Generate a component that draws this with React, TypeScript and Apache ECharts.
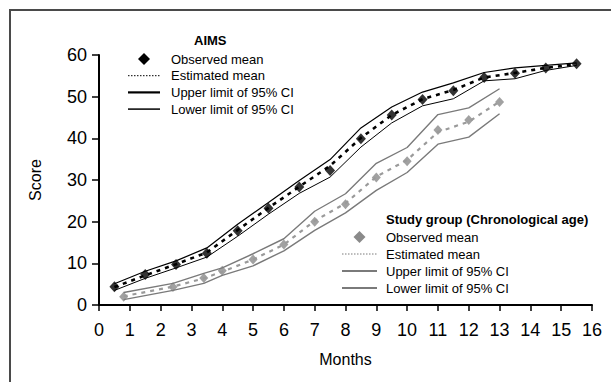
import React, { useEffect, useRef } from "react";
import * as echarts from "echarts";

const xTicks = [0, 16];
const yTicks = [0, 60];

const aimsMonths = [0.5, 1.5, 2.5, 3.5, 4.5, 5.5, 6.5, 7.5, 8.5, 9.5, 10.5, 11.5, 12.5, 13.5, 14.5, 15.5];
const aimsObserved = [4.4, 7.3, 9.7, 12.4, 17.8, 23.2, 28.3, 32.3, 39.9, 45.6, 49.3, 51.4, 54.6, 55.6, 56.9, 57.9];
const aimsEstimated = [4.3, 7.1, 9.8, 12.6, 18.0, 23.3, 28.4, 33.4, 40.1, 45.6, 49.4, 51.6, 54.6, 55.7, 56.9, 57.8];
const aimsUpper = [5.1, 8.1, 10.6, 13.7, 19.4, 24.6, 29.9, 34.9, 42.5, 47.5, 51.1, 53.3, 55.8, 56.9, 57.5, 58.1];
const aimsLower = [3.5, 6.4, 8.9, 11.5, 16.5, 21.8, 26.8, 30.7, 37.9, 43.7, 47.8, 49.5, 53.8, 54.3, 56.3, 57.5];

const studyMonths = [0.8, 2.4, 3.4, 4.0, 5.0, 6.0, 7.0, 8.0, 9.0, 10.0, 11.0, 12.0, 13.0];
const studyObserved = [2.0, 4.3, 6.5, 8.2, 10.9, 14.5, 20.0, 24.2, 30.6, 34.5, 42.0, 44.4, 48.7];
const studyEstimated = [2.1, 4.4, 6.4, 8.0, 10.9, 14.5, 20.2, 24.4, 30.8, 34.8, 41.5, 44.0, 48.8];
const studyUpper = [3.0, 5.2, 7.6, 8.9, 12.3, 15.9, 22.5, 26.7, 34.0, 37.8, 45.7, 47.3, 51.9];
const studyLower = [1.3, 3.5, 5.2, 7.1, 9.4, 13.0, 17.9, 22.1, 27.5, 31.8, 38.6, 40.3, 45.9];

const legendLabels = ["Observed mean", "Estimated mean", "Upper limit of 95% CI", "Lower limit of 95% CI"];
const aimsTitle = "AIMS";
const studyTitle = "Study group (Chronological age)";

const FONT = "'Liberation Sans', Arial, Helvetica, sans-serif";
const GRAY_PT = "#8a8a8a";
const GRAY_LN = "#7a7a7a";

const pair = (xs: number[], ys: number[]) => xs.map((x, i) => [x, ys[i]]);

function legendBlock(title: string, tx: number, ty: number, sx1: number, sx2: number, textX: number, y0: number, dy: number, dark: boolean) {
  const col = dark ? "#000" : GRAY_PT;
  const lcol = dark ? "#000" : GRAY_LN;
  const cx = (sx1 + sx2) / 2;
  const els: any[] = [
    {
      type: "text",
      x: tx,
      y: ty,
      style: { text: title, fill: "#000", fontSize: 13, fontWeight: "bold", fontFamily: FONT, align: "left", verticalAlign: "middle" },
    },
    {
      type: "polygon",
      shape: { points: [[cx, y0 - 6], [cx + 6, y0], [cx, y0 + 6], [cx - 6, y0]] },
      style: { fill: col },
    },
    {
      type: "line",
      shape: { x1: sx1, y1: y0 + dy, x2: sx2, y2: y0 + dy },
      style: { stroke: lcol, lineWidth: 1, lineDash: [1.5, 1.5] },
    },
    {
      type: "line",
      shape: { x1: sx1, y1: y0 + 2 * dy, x2: sx2, y2: y0 + 2 * dy },
      style: { stroke: lcol, lineWidth: dark ? 2.2 : 2 },
    },
    {
      type: "line",
      shape: { x1: sx1, y1: y0 + 3 * dy, x2: sx2, y2: y0 + 3 * dy },
      style: { stroke: lcol, lineWidth: dark ? 1.5 : 2 },
    },
  ];
  legendLabels.forEach((t, i) => {
    els.push({
      type: "text",
      x: textX,
      y: y0 + i * dy,
      style: { text: t, fill: "#000", fontSize: 13, fontFamily: FONT, align: "left", verticalAlign: "middle" },
    });
  });
  return els;
}

export default function App() {
  const ref = useRef<HTMLDivElement>(null);
  useEffect(() => {
    if (!ref.current) return;
    const chart = echarts.init(ref.current, undefined, { renderer: "svg" });
    const option: any = {
      animation: false,
      backgroundColor: "#ffffff",
      textStyle: { fontFamily: FONT },
      grid: { left: 99, right: 19, top: 55, bottom: 77, containLabel: false },
      xAxis: {
        type: "value",
        min: xTicks[0],
        max: xTicks[1],
        interval: 1,
        name: "Months",
        nameLocation: "middle",
        nameGap: 46,
        nameTextStyle: { fontSize: 16, color: "#000", fontFamily: FONT },
        axisLine: { show: true, onZero: false, lineStyle: { color: "#000", width: 2 } },
        axisTick: { show: true, inside: false, length: 6, lineStyle: { color: "#000", width: 1.5 } },
        axisLabel: { fontSize: 18, color: "#000", margin: 16, fontFamily: FONT },
        splitLine: { show: false },
      },
      yAxis: {
        type: "value",
        min: yTicks[0],
        max: yTicks[1],
        interval: 10,
        name: "Score",
        nameLocation: "middle",
        nameGap: 56,
        nameTextStyle: { fontSize: 16, color: "#000", fontFamily: FONT },
        axisLine: { show: true, onZero: false, lineStyle: { color: "#000", width: 2 } },
        axisTick: { show: true, inside: false, length: 7, lineStyle: { color: "#000", width: 1.5 } },
        axisLabel: { fontSize: 18, color: "#000", margin: 12, fontFamily: FONT },
        splitLine: { show: false },
      },
      graphic: [
        {
          type: "polyline",
          shape: { points: [[10, 382], [10, 10], [611, 10]] },
          style: { stroke: "#4a4a4a", lineWidth: 2, fill: "none" },
          silent: true,
        },
        ...legendBlock(aimsTitle, 194, 40, 128, 160, 171, 59, 16.7, true),
        ...legendBlock(studyTitle, 386, 219, 342, 377, 386, 237, 17, false),
      ],
      series: [
        {
          type: "line",
          data: pair(aimsMonths, aimsUpper),
          symbol: "none",
          lineStyle: { color: "#000", width: 1.2 },
        },
        {
          type: "line",
          data: pair(aimsMonths, aimsLower),
          symbol: "none",
          lineStyle: { color: "#000", width: 1 },
        },
        {
          type: "line",
          data: pair(aimsMonths, aimsEstimated),
          symbol: "none",
          lineStyle: { color: "#000", width: 2.6, type: [4, 5] },
        },
        {
          type: "line",
          data: pair(studyMonths, studyUpper),
          symbol: "none",
          lineStyle: { color: GRAY_LN, width: 1.4 },
        },
        {
          type: "line",
          data: pair(studyMonths, studyLower),
          symbol: "none",
          lineStyle: { color: GRAY_LN, width: 1.4 },
        },
        {
          type: "line",
          data: pair(studyMonths, studyEstimated),
          symbol: "none",
          lineStyle: { color: "#9a9a9a", width: 2.2, type: [4, 5] },
        },
        {
          type: "scatter",
          data: pair(aimsMonths, aimsObserved),
          symbol: "diamond",
          symbolSize: [10, 11],
          itemStyle: { color: "#000" },
        },
        {
          type: "scatter",
          data: pair(studyMonths, studyObserved),
          symbol: "diamond",
          symbolSize: [9, 10],
          itemStyle: { color: GRAY_PT },
        },
      ],
    };
    chart.setOption(option);
    return () => chart.dispose();
  }, []);
  return <div ref={ref} style={{ position: "fixed", left: 0, top: 0, width: 611, height: 382 }} />;
}
